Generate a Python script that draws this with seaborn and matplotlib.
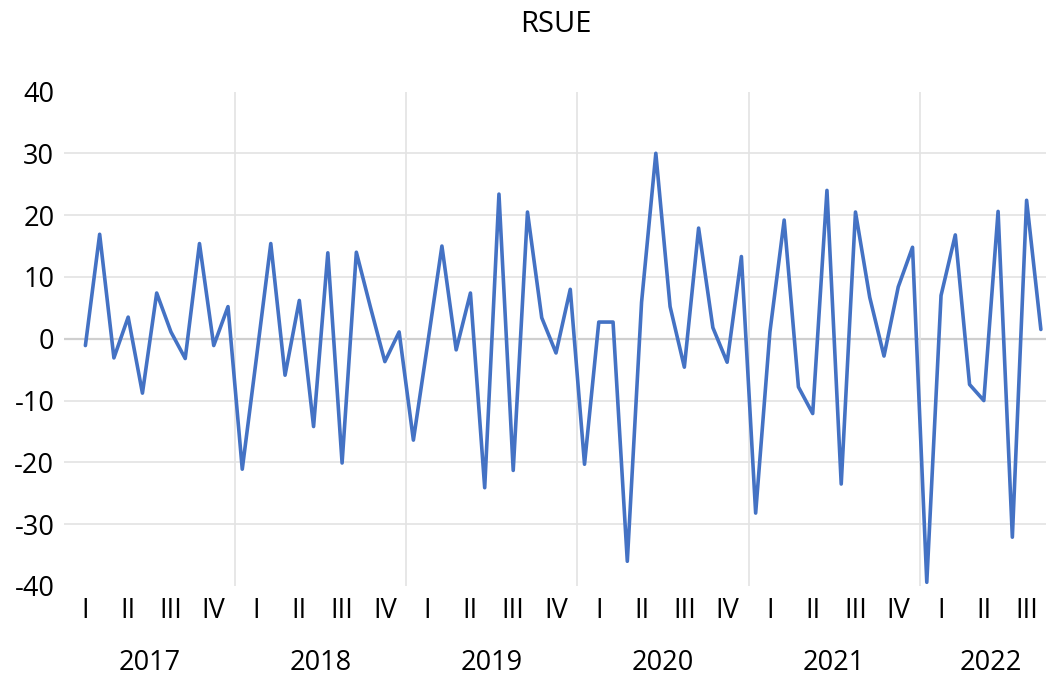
import numpy as np
import pandas as pd
import matplotlib
matplotlib.use("Agg")
import matplotlib.pyplot as plt
import seaborn as sns

# ---- data (monthly RSUE values, Jan 2017 missing) ----
years = ["2017", "2018", "2019", "2020", "2021", "2022"]
quarters = ["I", "II", "III", "IV"]
rsue_2017 = [np.nan, -1.1, 16.9, -3.1, 3.5, -8.8, 7.4, 1.1, -3.2, 15.4, -1.1, 5.2]
rsue_2018 = [-21.1, -3.0, 15.4, -5.9, 6.2, -14.2, 13.9, -20.1, 14.0, 5.0, -3.7, 1.1]
rsue_2019 = [-16.4, -0.8, 15.0, -1.8, 7.4, -24.1, 23.4, -21.3, 20.5, 3.4, -2.3, 8.0]
rsue_2020 = [-20.3, 2.7, 2.7, -36.0, 5.9, 30.0, 5.2, -4.6, 17.9, 1.8, -3.8, 13.3]
rsue_2021 = [-28.2, 1.1, 19.2, -7.8, -12.1, 24.0, -23.5, 20.5, 6.7, -2.8, 8.4, 14.8]
rsue_2022 = [-39.4, 7.0, 16.8, -7.4, -10.0, 20.6, -32.1, 22.4, 1.5]
quarters_per_year = [4, 4, 4, 4, 4, 3]
year_label_pos = [5.5, 17.5, 29.5, 41.5, 53.5, 64.5]

values = rsue_2017 + rsue_2018 + rsue_2019 + rsue_2020 + rsue_2021 + rsue_2022
df = pd.DataFrame({"slot": np.arange(len(values)), "RSUE": values})

sns.set_theme(style="white")
plt.rcParams["font.family"] = ["Open Sans", "DejaVu Sans"]
plt.rcParams["axes.unicode_minus"] = False

W, H = 1046, 680
fig = plt.figure(figsize=(W / 100, H / 100), dpi=100)
left_px, right_px, top_px, bot_px = 64, 1048, 91.5, 586
ax = fig.add_axes([left_px / W, 1 - bot_px / H, (right_px - left_px) / W, (bot_px - top_px) / H])

n_slots = len(values)
ax.set_xlim(-0.5, n_slots - 0.5)
ax.set_ylim(-40, 40)

# gridlines
for v in [-30, -20, -10, 10, 20, 30]:
    ax.axhline(v, color="#E3E3E3", lw=1.2, zorder=0)
ax.axhline(0, color="#CFCFCF", lw=1.6, zorder=0)
for b in [11.5, 23.5, 35.5, 47.5, 59.5]:
    ax.axvline(b, color="#E3E3E3", lw=1.2, zorder=0)

sns.lineplot(data=df, x="slot", y="RSUE", ax=ax, color="#4472C4", lw=2.6, zorder=3)

for s in ax.spines.values():
    s.set_visible(False)

ax.set_yticks(np.arange(-40, 41, 10))
ax.tick_params(axis="y", length=0, pad=7, labelsize=19.5, labelcolor="black")
ax.set_xticks([])
ax.set_xlabel("")
ax.set_ylabel("")

# quarter labels and year labels
trans = ax.get_xaxis_transform()
start = 0
for yl, nq, ypos in zip(years, quarters_per_year, year_label_pos):
    for q in range(nq):
        ax.text(start + 3 * q + 1, -0.05, quarters[q], transform=trans,
                ha="center", va="center", fontsize=19.5, color="black")
    ax.text(ypos, -0.156, yl, transform=trans, ha="center", va="center",
            fontsize=19.5, color="black")
    start += 12

ax.set_title("RSUE", fontsize=21, color="black", pad=43)

fig.savefig("out.png", dpi=100)
